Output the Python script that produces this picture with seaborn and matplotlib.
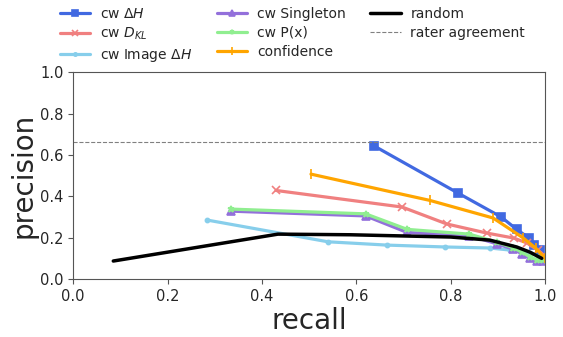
import matplotlib
matplotlib.use("Agg")
import matplotlib.pyplot as plt
import seaborn as sns
import pandas as pd

sns.set_style("ticks")
plt.rcParams['font.family'] = ['DejaVu Sans']

# data
dh_recall = [0.638, 0.816, 0.907, 0.94, 0.966, 0.977, 0.989, 1.0]
dh_prec = [0.643, 0.415, 0.30, 0.24, 0.198, 0.164, 0.14, 0.10]

dkl_recall = [0.43, 0.697, 0.792, 0.877, 0.934, 0.962, 0.985, 1.0]
dkl_prec = [0.428, 0.348, 0.266, 0.222, 0.198, 0.174, 0.14, 0.11]

img_recall = [0.284, 0.54, 0.665, 0.788, 0.883, 0.926, 0.968, 1.0]
img_prec = [0.285, 0.18, 0.164, 0.155, 0.150, 0.14, 0.126, 0.10]

single_recall = [0.335, 0.62, 0.708, 0.84, 0.898, 0.932, 0.951, 0.968, 0.983, 0.995]
single_prec = [0.328, 0.305, 0.225, 0.21, 0.17, 0.145, 0.122, 0.10, 0.085, 0.085]

px_recall = [0.335, 0.62, 0.708, 0.84, 0.898, 0.932, 0.951, 0.968, 0.983, 0.995]
px_prec = [0.338, 0.315, 0.24, 0.217, 0.178, 0.152, 0.13, 0.108, 0.092, 0.09]

conf_recall = [0.504, 0.756, 0.89, 0.953, 0.98, 1.0]
conf_prec = [0.507, 0.38, 0.295, 0.2, 0.15, 0.10]

rand_recall = [0.085, 0.434, 0.587, 0.8, 0.883, 0.94, 0.968, 0.993]
rand_prec = [0.087, 0.217, 0.214, 0.203, 0.188, 0.155, 0.13, 0.10]

rater_agreement = 0.662

series = [
    ("cw $\\Delta H$", dh_recall, dh_prec, "#4169E1", "s", 6),
    ("cw $D_{KL}$", dkl_recall, dkl_prec, "#F08080", "x", 6),
    ("cw Image $\\Delta H$", img_recall, img_prec, "#87CEEB", ".", 6),
    ("cw Singleton", single_recall, single_prec, "#9370DB", "^", 5.5),
    ("cw P(x)", px_recall, px_prec, "#90EE90", "*", 4.5),
    ("confidence", conf_recall, conf_prec, "#FFA500", "|", 7),
]

fig = plt.figure(figsize=(5.63, 3.37), dpi=100)
ax = fig.add_axes([0.13, 0.172, 0.838, 0.614])

for label, xs, ys, color, marker, ms in series:
    df = pd.DataFrame({"recall": xs, "precision": ys})
    sns.lineplot(data=df, x="recall", y="precision", sort=False, ax=ax,
                 color=color, marker=marker, markersize=ms, linewidth=2.3,
                 markeredgecolor=color, markeredgewidth=1.2, label=label)

df = pd.DataFrame({"recall": rand_recall, "precision": rand_prec})
sns.lineplot(data=df, x="recall", y="precision", sort=False, ax=ax,
             color="black", linewidth=2.5, label="random")
ax.axhline(rater_agreement, color="gray", linestyle="--", linewidth=0.8,
           label="rater agreement")

ax.set_xlim(0, 1)
ax.set_ylim(0, 1)
ax.set_xlabel("recall", fontsize=20, labelpad=2)
ax.set_ylabel("precision", fontsize=20, labelpad=2)
ax.tick_params(labelsize=10.5, color="#555555")
for s in ax.spines.values():
    s.set_color("#555555")
    s.set_visible(True)

handles, labels = ax.get_legend_handles_labels()
if ax.legend_:
    ax.legend_.remove()
fig.legend(handles, labels, ncol=3, loc="upper left",
           bbox_to_anchor=(0.084, 1.016), frameon=False, fontsize=10,
           handlelength=2.2, handletextpad=0.7, columnspacing=1.75,
           labelspacing=0.35, markerscale=0.8)

fig.savefig("out.png", dpi=100)
